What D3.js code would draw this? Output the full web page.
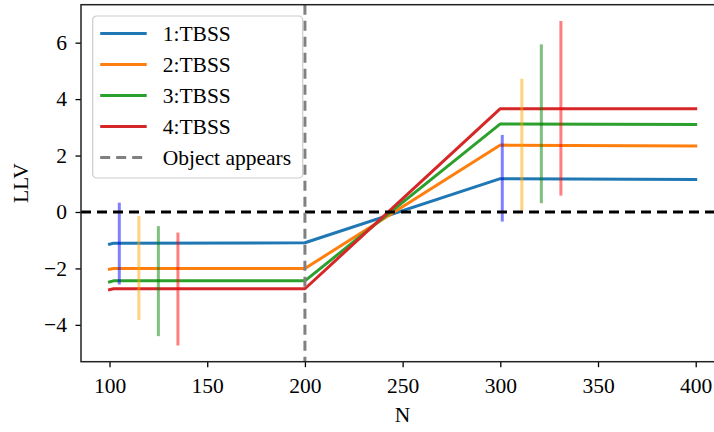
<!DOCTYPE html>
<html>
<head>
<meta charset="utf-8">
<script src="https://cdn.jsdelivr.net/npm/d3@7"></script>
<style>
  body { margin: 0; background: #fff; }
</style>
</head>
<body>
<svg id="chart" width="714" height="432"></svg>
<script>
// sample points of each TBSS curve
const nValues = [100, 102, 200, 300, 400]
const seriesNames = ["1:TBSS", "2:TBSS", "3:TBSS", "4:TBSS"]
const llv1 = [-1.14, -1.11, -1.09, 1.18, 1.15]
const llv2 = [-2.03, -2.0, -2.0, 2.37, 2.34]
const llv3 = [-2.48, -2.44, -2.44, 3.12, 3.1]
const llv4 = [-2.75, -2.72, -2.72, 3.66, 3.66]

// vertical range bars, before and after the object appears
const barN = [105, 115, 125, 135, 301, 311, 321, 331]
const barLow = [-2.57, -3.83, -4.4, -4.73, -0.34, 0.04, 0.31, 0.58]
const barHigh = [0.33, -0.14, -0.5, -0.73, 2.73, 4.72, 5.94, 6.77]
const barSeries = [0, 1, 2, 3, 0, 1, 2, 3]

const appearN = 200
const xTicks = [100, 150, 200, 250, 300, 350, 400]
const yTicks = [-4, -2, 0, 2, 4, 6]

const lineColors = ["#1f77b4", "#ff7f0e", "#2ca02c", "#d62728"]
const barColors = ["blue", "orange", "green", "red"]
const serif = "'Liberation Serif', 'Times New Roman', 'DejaVu Serif', serif"
const fs = "21.5px"

const svg = d3.select("#chart")
const margin = { top: 4.7, left: 81 }
const plotW = 645
const plotH = 357

const g = svg.append("g").attr("transform", `translate(${margin.left},${margin.top})`)

const x = d3.scaleLinear().domain([85.4, 415.5]).range([0, plotW])
const y = d3.scaleLinear().domain([-5.305, 7.345]).range([plotH, 0])

const allSeries = [llv1, llv2, llv3, llv4]

// lines
const line = d3.line().x((d, i) => x(nValues[i])).y((d) => y(d))
allSeries.forEach((s, k) => {
  g.append("path")
    .datum(s)
    .attr("d", line)
    .attr("fill", "none")
    .attr("stroke", lineColors[k])
    .attr("stroke-width", 3)
    .attr("stroke-linecap", "square")
    .attr("stroke-linejoin", "round")
})

// range bars
g.selectAll(".bar")
  .data(barN)
  .enter()
  .append("line")
  .attr("class", "bar")
  .attr("x1", (d) => x(d))
  .attr("x2", (d) => x(d))
  .attr("y1", (d, i) => y(barLow[i]))
  .attr("y2", (d, i) => y(barHigh[i]))
  .attr("stroke", (d, i) => barColors[barSeries[i]])
  .attr("stroke-opacity", 0.5)
  .attr("stroke-width", 3)

// zero line
g.append("line")
  .attr("x1", 0).attr("x2", plotW)
  .attr("y1", y(0)).attr("y2", y(0))
  .attr("stroke", "black")
  .attr("stroke-width", 3)
  .attr("stroke-dasharray", "10,6")

// object appears
g.append("line")
  .attr("x1", x(appearN)).attr("x2", x(appearN))
  .attr("y1", 0).attr("y2", plotH)
  .attr("stroke", "gray")
  .attr("stroke-width", 3)
  .attr("stroke-dasharray", "10,6")

// axes
const xAxis = g.append("g")
  .attr("transform", `translate(0,${plotH})`)
  .call(d3.axisBottom(x).tickValues(xTicks).tickSize(5.5).tickPadding(10.5))
const yAxis = g.append("g")
  .call(d3.axisLeft(y).tickValues(yTicks).tickSize(5.5).tickPadding(8.5).tickFormat((d) => d < 0 ? "\u2212" + Math.abs(d) : d))

;[xAxis, yAxis].forEach((a) => {
  a.attr("font-family", null).attr("font-size", null)
  a.selectAll("text").style("font-size", fs).style("font-family", serif).attr("fill", "#000")
  a.selectAll("line").attr("stroke", "#000").attr("stroke-width", 1.3)
  a.select(".domain").remove()
})

// spines (right edge falls outside the picture)
g.append("rect")
  .attr("width", plotW).attr("height", plotH)
  .attr("fill", "none").attr("stroke", "#222").attr("stroke-width", 1.5)

// axis titles
svg.append("text")
  .attr("x", margin.left + x(250)).attr("y", 422)
  .attr("text-anchor", "middle").style("font-size", fs).style("font-family", serif).text("N")
svg.append("text")
  .attr("transform", `translate(28,${margin.top + plotH / 2}) rotate(-90)`)
  .attr("text-anchor", "middle").style("font-size", fs).style("font-family", serif).text("LLV")

// legend
const lg = svg.append("g").attr("transform", "translate(92.7,16)")
lg.append("rect")
  .attr("width", 210).attr("height", 162).attr("rx", 4)
  .attr("fill", "white").attr("fill-opacity", 0.8)
  .attr("stroke", "#ccc").attr("stroke-width", 1.2)
const legendItems = seriesNames.map((n, k) => ({ label: n, color: lineColors[k], dash: null }))
legendItems.push({ label: "Object appears", color: "gray", dash: "10,6" })
legendItems.forEach((d, i) => {
  const yy = 17.5 + i * 31
  lg.append("line")
    .attr("x1", 7.5).attr("x2", 54)
    .attr("y1", yy).attr("y2", yy)
    .attr("stroke", d.color).attr("stroke-width", 3)
    .attr("stroke-dasharray", d.dash)
  lg.append("text")
    .attr("x", 70).attr("y", yy + 7.5)
    .style("font-size", fs).style("font-family", serif).text(d.label)
})
</script>
</body>
</html>
